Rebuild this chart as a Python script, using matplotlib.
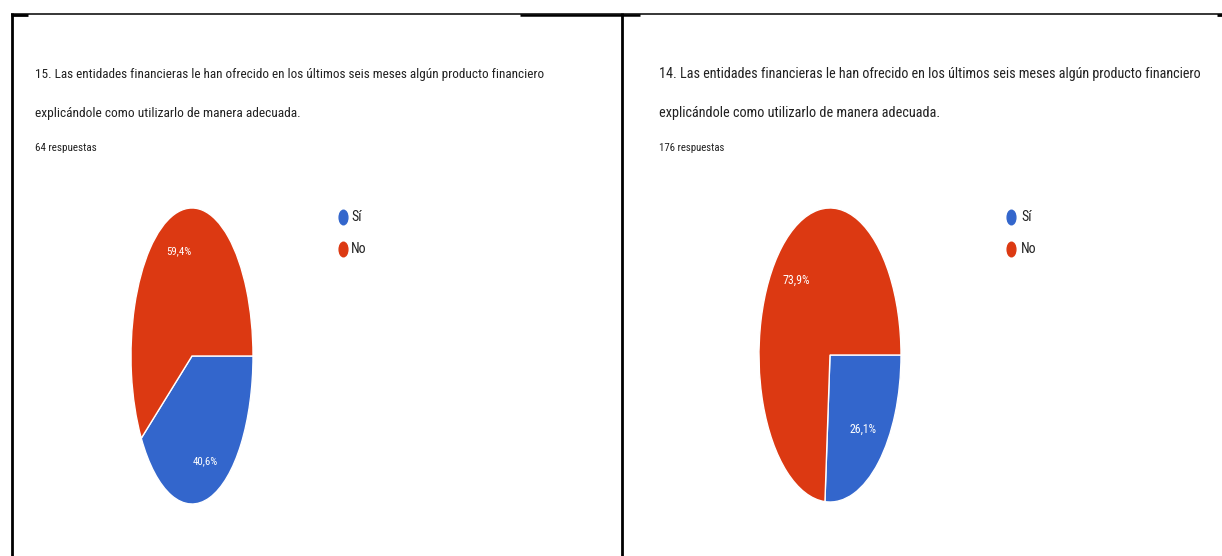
import matplotlib
matplotlib.use("Agg")
import matplotlib.pyplot as plt
from matplotlib import font_manager as fm
from matplotlib.lines import Line2D
from matplotlib.path import Path
from matplotlib.transforms import Affine2D

# ---- data -------------------------------------------------------------
categories = ["Sí", "No"]
colors = ["#3366CC", "#DC3912"]

titles = [
    ["15. Las entidades financieras le han ofrecido en los últimos seis meses algún producto financiero",
     "explicándole como utilizarlo de manera adecuada."],
    ["14. Las entidades financieras le han ofrecido en los últimos seis meses algún producto financiero",
     "explicándole como utilizarlo de manera adecuada."],
]
responses_left = [26, 38]     # Sí, No  (64 respuestas)
responses_right = [46, 130]   # Sí, No  (176 respuestas)
answer_counts = [responses_left, responses_right]

# ---- figure -----------------------------------------------------------
W, H = 1222, 556
DPI = 100
fig = plt.figure(figsize=(W / DPI, H / DPI), dpi=DPI, facecolor="white")

names = {f.name for f in fm.fontManager.ttflist}
family = "Roboto"
for cand in ["Roboto Condensed", "Liberation Sans Narrow", "Roboto"]:
    if cand in names:
        family = cand
        break
plt.rcParams["font.family"] = [family, "DejaVu Sans"]


def fx(x):
    return x / W


def fy(y):
    return 1 - y / H


# panel frame lines
def hline(x0, x1, y, lw):
    fig.add_artist(Line2D([fx(x0), fx(x1)], [fy(y), fy(y)], color="black", lw=lw,
                          solid_capstyle="butt"))


def vline(x, y0, y1, lw):
    fig.add_artist(Line2D([fx(x), fx(x)], [fy(y0), fy(y1)], color="black", lw=lw,
                          solid_capstyle="butt"))


hline(11, 1222, 14, 1.1)
hline(11, 28, 14.5, 2.0)
hline(520, 640, 14.5, 1.8)
hline(1217, 1222, 14.5, 2.0)
vline(11.5, 13, 556, 2.0)
vline(622, 13, 556, 2.0)

# upright ellipse used as legend key
ellipse_marker = Path.unit_circle().transformed(Affine2D().scale(0.6, 1.0))

# per-panel layout (pixels)
panels = [
    dict(tx=35, base=(78, 117, 151), widths=(470, 249, 62), pie=(192, 356, 61, 148),
         pct_w=23, pctdist=0.74, leg=(343, 217), leg_dx=8, nresp="64 respuestas"),
    dict(tx=659, base=(78, 117, 151), widths=(543, 281, 65), pie=(830, 355, 71, 147),
         pct_w=27, pctdist=0.69, leg=(1011, 217), leg_dx=10, nresp="176 respuestas"),
]

fit_items = []  # (panel index, text artist, target width px)

for k, (p, lines, counts) in enumerate(zip(panels, titles, answer_counts)):
    tx = p["tx"]
    for line, b, w in zip(lines + [p["nresp"]], p["base"], p["widths"]):
        t = fig.text(fx(tx), fy(b), line, ha="left", va="baseline", fontsize=10,
                     color="#212121")
        fit_items.append((k, t, w))

    cx, cy, rx, ry = p["pie"]
    ax = fig.add_axes([fx(cx - rx), fy(cy + ry), 2 * rx / W, 2 * ry / H])
    wedges, _, autotexts = ax.pie(
        counts, colors=colors, startangle=0, counterclock=False, radius=1,
        autopct=lambda v: f"{v:.1f}%".replace(".", ","),
        pctdistance=p["pctdist"],
        wedgeprops=dict(edgecolor="white", linewidth=1.0, clip_on=False),
        textprops=dict(color="white", fontsize=9),
    )
    ax.set_aspect("auto")
    ax.set_xlim(-1, 1)
    ax.set_ylim(-1, 1)
    ax.axis("off")
    for at in autotexts:
        fit_items.append((k, at, p["pct_w"]))

    lx, ly = p["leg"]
    for i, (cat, col) in enumerate(zip(categories, colors)):
        yy = ly + 32 * i
        fig.add_artist(Line2D([fx(lx)], [fy(yy)], ls="none", marker=ellipse_marker,
                              markersize=10.5, markerfacecolor=col, markeredgecolor=col))
        fig.text(fx(lx + p["leg_dx"]), fy(yy), cat, ha="left", va="center",
                 fontsize=10, color="#212121")

# scale each text so its rendered width matches its slot; the narrower left
# panel keeps part of the right panel's size so glyph heights stay similar
fig.canvas.draw()
renderer = fig.canvas.get_renderer()
fitted = []
for k, t, w in fit_items:
    ext = t.get_window_extent(renderer)
    fitted.append(t.get_fontsize() * w / ext.width)
n = len(fit_items) // 2
for idx, (k, t, w) in enumerate(fit_items):
    size = fitted[idx]
    if k == 0:
        size = 0.5 * (size + fitted[idx + n])
    t.set_fontsize(size)

fig.savefig("out.png", dpi=DPI, facecolor="white")
